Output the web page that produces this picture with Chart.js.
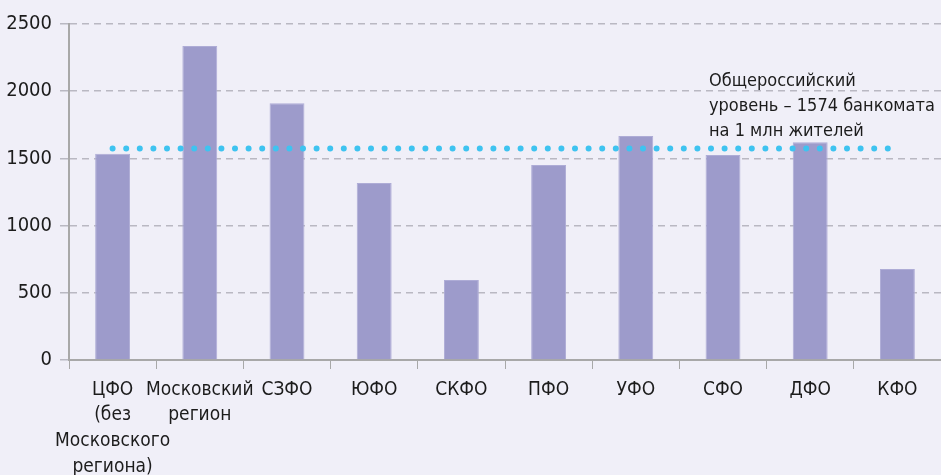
<!DOCTYPE html>
<html>
<head>
<meta charset="utf-8">
<script src="https://cdn.jsdelivr.net/npm/chart.js@4/dist/chart.umd.min.js"></script>
<style>
  html, body { margin: 0; padding: 0; background: #f0eff8; }
  #wrap { width: 941px; height: 475px; }
</style>
</head>
<body>
<div id="wrap"><canvas id="myChart"></canvas></div>
<script>
const regiones = [
  ["ЦФО", "(без", "Московского", "региона)"],
  ["Московский", "регион"],
  "СЗФО", "ЮФО", "СКФО", "ПФО", "УФО", "СФО", "ДФО", "КФО"
]
const bankomaty = [1535, 2336, 1910, 1317, 595, 1451, 1667, 1525, 1620, 677]
const urovenRF = 1574
const ticksY = [0, 500, 1000, 1500, 2000, 2500]
const textoNivel = ["Общероссийский", "уровень – 1574 банкомата", "на 1 млн жителей"]

const fuente = "'DejaVu Sans Condensed', Roboto, sans-serif"

// annotation next to the average line
const notaNivel = {
  id: 'notaNivel',
  afterDraw: (chart) => {
    const ctx = chart.ctx
    const y = chart.scales.y.getPixelForValue(urovenRF)
    const x = chart.chartArea.right - 232
    ctx.save()
    ctx.font = "18px " + fuente
    ctx.fillStyle = "#1c1c1c"
    ctx.textBaseline = "alphabetic"
    for (let i = 0; i < textoNivel.length; i++) {
      ctx.fillText(textoNivel[i], x, y - 62 + i * 25)
    }
    ctx.restore()
  }
}

const ctx = document.getElementById('myChart').getContext('2d')

myChart = new Chart(ctx, {
  data: {
    labels: regiones,
    datasets: [
      {
        type: 'line',
        data: regiones.map(() => urovenRF),
        borderColor: '#3ec3f0',
        borderWidth: 6,
        borderDash: [0, 13.6],
        borderCapStyle: 'round',
        pointRadius: 0,
        fill: false,
        order: 0
      },
      {
        type: 'bar',
        data: bankomaty,
        backgroundColor: '#9d9bcb',
        borderColor: '#aeacd6',
        borderWidth: 1,
        categoryPercentage: 0.4,
        barPercentage: 1,
        order: 1
      }
    ]
  },
  options: {
    responsive: true,
    maintainAspectRatio: false,
    animation: false,
    layout: { padding: { top: 24, right: 0, left: 0, bottom: 0 } },
    plugins: { legend: { display: false }, tooltip: { enabled: false } },
    scales: {
      x: {
        grid: {
          drawOnChartArea: false,
          drawTicks: true,
          tickLength: 9,
          color: '#a8a8a8'
        },
        border: { color: '#a8a8a8', width: 2 },
        ticks: {
          color: '#1c1c1c',
          font: { family: fuente, size: 19, lineHeight: 1.35 },
          padding: 8,
          maxRotation: 0,
          autoSkip: false
        },
        afterFit: (scale) => { scale.height = 115 }
      },
      y: {
        min: 0,
        max: 2500,
        afterBuildTicks: (scale) => { scale.ticks = ticksY.map((v) => ({ value: v })) },
        grid: {
          color: '#b9b8c2',
          lineWidth: 1.5,
          tickLength: 9,
          tickColor: '#b9b8c2'
        },
        border: { color: '#a8a8a8', width: 2, dash: [7, 5] },
        ticks: {
          color: '#1c1c1c',
          font: { family: fuente, size: 20 },
          padding: 8,
          callback: (v) => String(v)
        },
        afterFit: (scale) => { scale.width = 69 }
      }
    }
  },
  plugins: [notaNivel]
})
</script>
</body>
</html>
